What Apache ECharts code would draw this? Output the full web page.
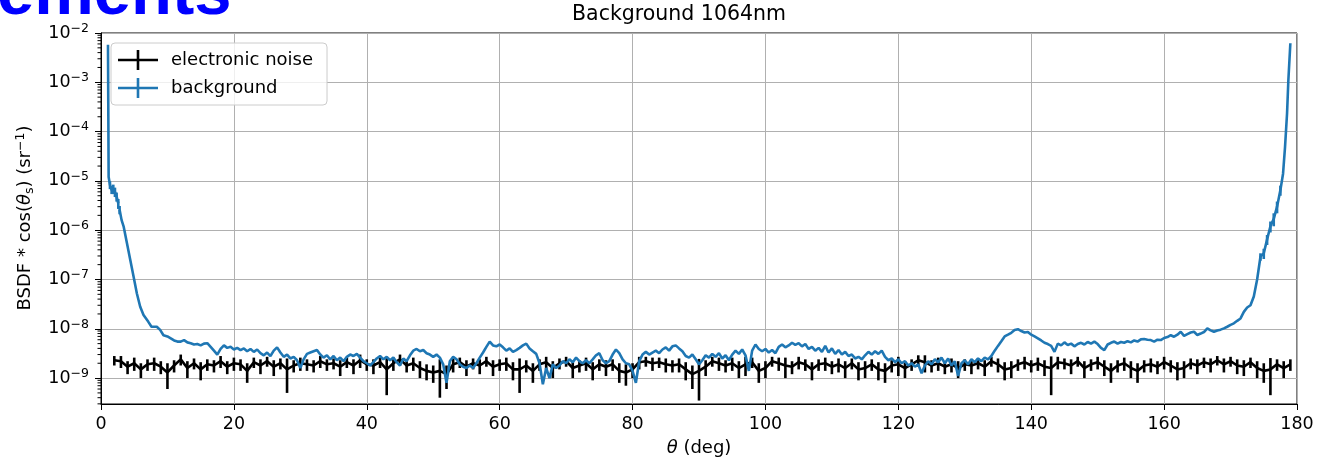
<!DOCTYPE html>
<html>
<head>
<meta charset="utf-8">
<script src="https://cdn.jsdelivr.net/npm/echarts@6/dist/echarts.min.js"></script>
<style>
  html, body { margin: 0; padding: 0; background: #ffffff; }
  #chart { width: 1334px; height: 466px; }
</style>
</head>
<body>
<div id="chart"></div>
<script>
// ---------------------------------------------------------------------------
// Scatter measurement at 1064 nm: electronic noise floor and background scan
// ---------------------------------------------------------------------------
const FONT = '"DejaVu Sans", Verdana, sans-serif';
const NANO = 1e-9;                     // noise and mid-range background are listed in units of 1e-9 sr^-1
const Y_MIN = 2.98e-10;
const Y_MAX = 1e-2;
const X_TICK_STEP = 20;

// Electronic noise: one reading per degree from 2 deg to 179 deg (units 1e-9)
const NOISE_FIRST_ANGLE = 2;
const noiseValues = [
  2.3, 2.2, 1.7, 2.0, 1.5, 1.9, 2.0, 1.7, 1.3, 1.8,
  2.4, 1.6, 2.0, 1.5, 1.9, 1.8, 2.2, 1.7, 2.0, 1.9,
  1.4, 2.1, 1.8, 2.2, 1.7, 2.0, 1.5, 1.8, 2.0, 1.9,
  1.8, 2.2, 1.9, 2.0, 1.7, 2.1, 1.8, 2.3, 1.9, 1.8,
  2.1, 1.5, 2.0, 2.4, 1.8, 2.0, 1.6, 1.4, 1.3, 1.4,
  1.2, 1.9, 2.1, 1.7, 2.0, 1.8, 2.2, 1.7, 1.9, 2.0,
  1.5, 1.5, 1.8, 1.4, 1.9, 2.1, 1.6, 2.0, 2.2, 1.6,
  1.8, 2.0, 1.5, 1.9, 1.7, 1.9, 1.4, 1.3, 1.5, 2.1,
  2.2, 2.0, 2.1, 1.9, 1.8, 1.9, 1.5, 1.2, 1.4, 1.7,
  2.2, 2.0, 1.8, 2.0, 1.6, 1.9, 2.1, 1.4, 1.6, 2.2,
  2.0, 1.8, 1.7, 2.1, 1.9, 1.5, 1.9, 2.0, 1.7, 1.9,
  1.6, 2.0, 1.5, 1.6, 1.9, 1.5, 1.4, 1.8, 1.9, 1.6,
  1.9, 2.3, 2.1, 1.8, 2.0, 1.7, 1.9, 1.6, 1.9, 1.8,
  2.0, 1.7, 2.2, 1.9, 1.5, 1.6, 1.9, 2.1, 1.8, 2.0,
  1.7, 1.6, 2.1, 2.0, 1.8, 2.2, 1.6, 1.9, 2.1, 1.7,
  1.4, 1.8, 2.0, 1.6, 1.4, 1.8, 1.9, 1.7, 2.1, 1.8,
  1.5, 1.6, 2.0, 1.8, 2.1, 1.9, 2.3, 1.9, 2.2, 1.8,
  1.7, 2.1, 1.6, 1.4, 1.5, 1.9, 1.6, 1.9
];
// One-sigma uncertainty of each noise reading (units 1e-9)
const noiseErrors = [
  0.5, 0.6, 0.5, 0.6, 0.5, 0.5, 0.6, 0.5, 0.7, 0.5,
  0.6, 0.6, 0.5, 0.6, 0.5, 0.5, 0.6, 0.5, 0.6, 0.5,
  0.6, 0.5, 0.6, 0.5, 0.6, 0.5, 1.0, 0.5, 0.6, 0.5,
  0.5, 0.6, 0.5, 0.5, 0.6, 0.5, 0.6, 0.7, 0.5, 0.6,
  0.5, 1.05, 0.6, 0.6, 0.5, 0.6, 0.6, 0.5, 0.5, 1.0,
  0.6, 0.6, 0.5, 0.6, 0.5, 0.6, 0.5, 0.6, 0.5, 0.6,
  0.6, 1.0, 0.5, 0.6, 0.5, 0.6, 0.6, 0.5, 0.5, 0.6,
  0.5, 0.6, 0.6, 0.5, 0.6, 0.5, 0.6, 0.6, 0.5, 0.6,
  0.5, 0.6, 0.5, 0.6, 0.5, 0.6, 0.6, 0.6, 1.05, 0.6,
  0.5, 0.6, 0.5, 0.6, 0.6, 0.8, 0.5, 0.6, 0.6, 0.5,
  0.6, 0.8, 0.5, 0.6, 0.5, 0.6, 0.5, 0.6, 0.5, 0.6,
  0.6, 0.5, 0.6, 0.6, 0.5, 0.6, 0.6, 0.5, 0.8, 0.6,
  0.5, 0.6, 0.8, 0.5, 0.6, 0.5, 0.6, 0.6, 0.5, 0.6,
  0.5, 0.6, 0.5, 0.6, 0.6, 0.6, 0.5, 0.6, 0.5, 0.6,
  0.6, 1.15, 0.6, 0.5, 0.6, 0.5, 0.6, 0.5, 0.6, 0.6,
  0.6, 0.5, 0.6, 0.6, 0.6, 0.5, 0.6, 0.5, 0.6, 0.5,
  0.6, 0.6, 0.5, 0.6, 0.5, 0.6, 0.5, 0.6, 0.5, 0.6,
  0.6, 0.5, 0.6, 0.6, 1.05, 0.5, 0.6, 0.5
];

// Background near the forward direction, [angle (deg), value]; null marks a missing reading
const backgroundLeft = [
  [1.05, 5.8e-3], [1.15, 1.2e-5], [1.35, 8.3e-6], [1.6, 6.6e-6], [1.85, 6.9e-6],
  [2.1, 6.0e-6], [2.35, 4.8e-6], [2.6, 3.5e-6], [2.7, null], [2.8, 2.6e-6],
  [3.1, 1.6e-6], [3.4, 1.2e-6], [3.9, 5.5e-7], [4.4, 2.5e-7], [4.9, 1.15e-7],
  [5.4, 5.2e-8], [5.9, 2.8e-8], [6.4, 1.9e-8], [7.1, 1.4e-8], [7.6, 1.1e-8],
  [8.4, 1.1e-8], [8.9, 9.5e-9], [9.4, 7.4e-9], [10.0, 7.0e-9], [10.5, 6.4e-9],
  [11.0, 5.8e-9], [11.5, 5.5e-9], [12.0, 5.5e-9], [12.5, 5.9e-9], [13.0, 5.3e-9],
  [13.5, 5.1e-9], [14.0, 4.8e-9], [14.5, 4.9e-9], [15.0, 4.6e-9], [15.5, 5.0e-9],
  [16.0, 5.1e-9], [16.5, 4.3e-9], [17.0, 3.6e-9], [17.5, 3.0e-9], [18.0, 3.9e-9],
  [18.5, 4.6e-9], [19.0, 4.1e-9], [19.5, 4.3e-9], [20.0, 3.8e-9], [20.5, 4.1e-9]
];

// Background every 0.5 deg from 21 deg to 171.5 deg (units 1e-9)
const BACKGROUND_MID_FIRST = 21;
const BACKGROUND_MID_STEP = 0.5;
const backgroundMid = [
  3.7, 4.0, 3.5, 3.9, 3.4, 3.8, 3.2, 2.9, 3.3, 2.8,   // 21.0
  3.6, 4.2, 3.3, 2.7, 3.0, 2.5, 2.7, 2.3, 1.6, 2.4,   // 26.0
  3.1, 3.3, 3.5, 3.7, 3.0, 2.6, 2.9, 2.4, 2.8, 2.3,   // 31.0
  2.6, 2.2, 2.7, 3.0, 2.8, 3.1, 2.6, 2.2, 2.0, 1.8,   // 36.0
  2.1, 2.5, 2.8, 2.4, 2.7, 2.3, 2.6, 2.1, 1.8, 2.5,   // 41.0
  2.2, 2.9, 3.6, 3.9, 3.5, 3.7, 3.2, 3.0, 2.7, 3.0,   // 46.0
  2.6, 1.9, 0.8, 2.2, 2.7, 2.4, 1.9, 1.7, 1.6, 1.8,   // 51.0
  1.6, 2.0, 2.6, 3.3, 4.3, 5.5, 4.6, 4.4, 4.8, 4.2,   // 56.0
  3.6, 4.0, 3.4, 3.7, 4.1, 4.6, 5.0, 4.0, 3.5, 3.1,   // 61.0
  2.0, 0.75, 1.6, 1.0, 1.9, 1.6, 1.8, 2.2, 2.0, 2.4,  // 66.0
  2.1, 2.6, 2.2, 2.0, 2.3, 2.0, 2.4, 2.9, 3.2, 2.3,   // 71.0
  2.0, 2.2, 3.0, 3.8, 3.2, 2.4, 2.0, 1.9, 1.4, 0.8,   // 76.0
  2.2, 3.0, 3.4, 3.0, 3.3, 3.6, 3.2, 3.8, 4.2, 3.6,   // 81.0
  4.4, 4.6, 4.0, 3.5, 2.8, 2.6, 3.0, 2.4, 1.9, 2.3,   // 86.0
  2.9, 2.6, 3.1, 2.7, 3.2, 2.5, 2.9, 2.3, 3.0, 3.6,   // 91.0
  3.1, 3.8, 2.9, 1.4, 3.6, 4.8, 3.9, 3.5, 3.9, 3.3,   // 96.0
  3.7, 3.2, 4.3, 4.8, 4.2, 4.6, 5.2, 4.7, 5.1, 4.4,   // 101.0
  4.9, 3.9, 4.3, 3.6, 4.1, 3.4, 4.5, 3.3, 4.0, 3.1,   // 106.0
  3.7, 3.0, 3.4, 2.8, 3.0, 2.5, 2.7, 2.4, 2.9, 3.4,   // 111.0
  3.0, 3.5, 3.1, 3.6, 2.7, 2.3, 2.5, 2.1, 2.4, 2.0,   // 116.0
  2.2, 1.8, 2.0, 1.7, 1.9, 1.25, 1.8, 2.2, 1.9, 2.4,  // 121.0
  2.1, 2.6, 2.0, 2.5, 1.8, 2.2, 1.1, 2.0, 2.3, 1.9,   // 126.0
  2.4, 2.1, 2.5, 2.2, 2.6, 2.4, 2.8, 3.6, 4.5, 5.6,   // 131.0
  7.0, 7.6, 8.3, 9.4, 9.8, 9.0, 8.4, 8.6, 7.6, 7.0,   // 136.0
  6.4, 5.8, 5.2, 4.9, 4.5, 3.4, 5.0, 4.6, 5.3, 4.7,   // 141.0
  5.0, 4.4, 4.9, 5.2, 4.8, 5.4, 5.0, 5.5, 4.9, 4.1,   // 146.0
  3.7, 4.8, 5.2, 5.5, 5.0, 5.4, 5.2, 5.6, 5.3, 5.8,   // 151.0
  5.5, 6.1, 6.2, 6.0, 5.9, 5.5, 6.0, 5.9, 6.5, 6.8,   // 156.0
  7.4, 6.9, 7.6, 8.7, 7.2, 7.8, 8.4, 8.7, 7.5, 8.0,   // 161.0
  8.6, 10.2, 9.3, 8.7, 9.2, 9.6, 10.2, 11.0, 12.0, 12.9, // 166.0
  14.5, 16.2                                           // 171.0
];

// Background near the back-reflection direction, [angle (deg), value]
const backgroundRight = [
  [172.0, 2.2e-8], [172.5, 2.7e-8], [173.0, 3.0e-8], [173.5, 4.5e-8], [174.0, 1.0e-7],
  [174.5, 2.9e-7], [175.0, 3.4e-7], [175.5, 6.5e-7], [176.0, 1.2e-6], [176.5, 1.7e-6],
  [177.0, 3.0e-6], [177.5, 6.5e-6], [177.9, 1.4e-5], [178.2, 4.9e-5], [178.5, 2.3e-4],
  [178.7, 1.1e-3], [179.0, 6.2e-3]
];

// Background uncertainties that are large enough to show, [angle (deg), value, sigma]
const backgroundErrors = [
  [1.35, 8.3e-6, 1.5e-6], [1.6, 6.6e-6, 1.2e-6], [1.85, 6.9e-6, 1.5e-6], [2.1, 6.0e-6, 1.3e-6],
  [2.35, 4.8e-6, 1.0e-6], [2.6, 3.5e-6, 0.8e-6], [2.8, 2.6e-6, 0.5e-6],
  [174.5, 2.9e-7, 0.5e-7], [175.0, 3.4e-7, 0.8e-7], [175.5, 6.5e-7, 1.5e-7], [176.0, 1.2e-6, 0.3e-6],
  [176.5, 1.7e-6, 0.5e-6], [177.0, 3.0e-6, 0.8e-6], [177.5, 6.5e-6, 1.5e-6]
];

// ---------------------------------------------------------------------------
// Assemble the series data
// ---------------------------------------------------------------------------
const noiseLine = noiseValues.map((v, i) => [NOISE_FIRST_ANGLE + i, v * NANO]);
const noiseBars = noiseValues.map((v, i) => [NOISE_FIRST_ANGLE + i, v * NANO, noiseErrors[i] * NANO]);

const backgroundLine = backgroundLeft
  .concat(backgroundMid.map((v, i) => [BACKGROUND_MID_FIRST + i * BACKGROUND_MID_STEP, v * NANO]))
  .concat(backgroundRight);

// log-axis minor ticks: 2..9 x 10^k inside the axis range
const minorTicks = [];
for (let k = -10; k <= -3; k++) {
  for (let m = 2; m <= 9; m++) {
    const v = m * Math.pow(10, k);
    if (v > Y_MIN && v < Y_MAX) minorTicks.push([0, v]);
  }
}

const BLUE = '#1f77b4';
const BLACK = '#000000';

function errorBarRenderer(color) {
  return function (params, api) {
    const x = api.value(0);
    const v = api.value(1);
    const e = api.value(2);
    const top = api.coord([x, Math.min(v + e, Y_MAX)]);
    const bottom = api.coord([x, Math.max(v - e, Y_MIN)]);
    return {
      type: 'line',
      shape: { x1: top[0], y1: top[1], x2: bottom[0], y2: bottom[1] },
      style: { stroke: color, lineWidth: 2.6 }
    };
  };
}

function minorTickRenderer(params, api) {
  const p = api.coord([api.value(0), api.value(1)]);
  return {
    type: 'line',
    shape: { x1: p[0] - 3.5, y1: p[1], x2: p[0], y2: p[1] },
    style: { stroke: '#000', lineWidth: 1 }
  };
}

const chart = echarts.init(document.getElementById('chart'), null, { renderer: 'canvas' });

const plusIcon = 'path://M0,8.7H40V11.3H0Z M18.7,0H21.3V20H18.7Z';

chart.setOption({
  animation: false,
  backgroundColor: '#ffffff',
  textStyle: { fontFamily: FONT },
  grid: {
    left: 101, right: 37, top: 33, bottom: 62,
    show: true, borderColor: '#000', borderWidth: 1, backgroundColor: 'transparent'
  },
  legend: {
    orient: 'vertical',
    left: 111, top: 43,
    itemWidth: 40, itemHeight: 20, itemGap: 8,
    padding: [7, 14, 7, 7],
    backgroundColor: 'rgba(255,255,255,0.8)',
    borderColor: '#cccccc', borderWidth: 1, borderRadius: 4,
    textStyle: { fontFamily: FONT, fontSize: 18, color: '#000', padding: [0, 0, 0, 8] },
    data: [
      { name: 'electronic noise', icon: plusIcon, itemStyle: { color: BLACK } },
      { name: 'background', icon: plusIcon, itemStyle: { color: BLUE } }
    ]
  },
  xAxis: {
    type: 'value',
    min: 0, max: 180, interval: X_TICK_STEP,
    name: '{it|θ} (deg)',
    nameLocation: 'middle',
    nameGap: 35,
    nameTextStyle: {
      fontFamily: FONT, fontSize: 18, color: '#000',
      rich: { it: { fontFamily: FONT, fontSize: 18, fontStyle: 'italic', color: '#000' } }
    },
    axisLine: { show: true, lineStyle: { color: '#000', width: 1 } },
    axisTick: { show: true, length: 6, lineStyle: { color: '#000', width: 1 } },
    axisLabel: { fontFamily: FONT, fontSize: 17.5, color: '#000', margin: 11 },
    splitLine: { show: true, lineStyle: { color: '#b0b0b0', width: 1 } }
  },
  yAxis: {
    type: 'log',
    logBase: 10,
    min: Y_MIN, max: Y_MAX,
    splitNumber: 5,
    axisLine: { show: true, lineStyle: { color: '#000', width: 1 } },
    axisTick: { show: true, length: 6, lineStyle: { color: '#000', width: 1 } },
    axisLabel: {
      fontFamily: FONT, fontSize: 17.5, color: '#000', margin: 12,
      lineHeight: 22,
      showMinLabel: false,
      formatter: function (v) {
        const p = Math.log10(v);
        const r = Math.round(p);
        if (Math.abs(p - r) > 1e-6) return '';
        return '10{sup|\u2212' + Math.abs(r) + '}';
      },
      rich: { sup: { fontFamily: FONT, fontSize: 12.5, color: '#000', verticalAlign: 'top' } }
    },
    splitLine: { show: true, lineStyle: { color: '#b0b0b0', width: 1 } }
  },
  series: [
    {
      name: 'electronic noise',
      type: 'line',
      data: noiseLine,
      showSymbol: false,
      symbol: 'none',
      lineStyle: { color: BLACK, width: 2.6 },
      itemStyle: { color: BLACK },
      z: 2
    },
    {
      name: 'electronic noise',
      type: 'custom',
      data: noiseBars,
      encode: { x: 0, y: 1 },
      renderItem: errorBarRenderer(BLACK),
      silent: true,
      z: 2
    },
    {
      name: 'background',
      type: 'line',
      data: backgroundLine,
      showSymbol: false,
      symbol: 'none',
      connectNulls: false,
      lineStyle: { color: BLUE, width: 2.6 },
      itemStyle: { color: BLUE },
      z: 3
    },
    {
      name: 'background',
      type: 'custom',
      data: backgroundErrors,
      encode: { x: 0, y: 1 },
      renderItem: errorBarRenderer(BLUE),
      silent: true,
      z: 3
    },
    {
      name: 'minor ticks',
      type: 'custom',
      data: minorTicks,
      encode: { x: 0, y: 1 },
      renderItem: minorTickRenderer,
      silent: true,
      z: 5
    }
  ],
  graphic: [
    {
      type: 'text',
      x: 679, y: 15,
      style: {
        text: 'Background 1064nm',
        fontFamily: FONT, fontSize: 20.5, fill: '#000',
        align: 'center', verticalAlign: 'middle'
      }
    },
    {
      type: 'text',
      x: 25, y: 218,
      rotation: Math.PI / 2,
      style: {
        text: 'BSDF * cos({it|θ}{sub|s}) (sr{sup|\u22121})',
        fontFamily: FONT, fontSize: 18, fill: '#000', lineHeight: 22,
        align: 'center', verticalAlign: 'middle',
        rich: {
          it: { fontFamily: FONT, fontSize: 18, fontStyle: 'italic', fill: '#000' },
          sub: { fontFamily: FONT, fontSize: 12.5, fill: '#000', verticalAlign: 'bottom' },
          sup: { fontFamily: FONT, fontSize: 12.5, fill: '#000', verticalAlign: 'top' }
        }
      }
    },
    {
      type: 'text',
      x: -3, y: -4,
      style: {
        text: 'ements',
        fontFamily: '"Liberation Sans", Arial, sans-serif',
        fontWeight: 'bold', fontSize: 67, fill: '#0000ff',
        align: 'left', verticalAlign: 'middle'
      }
    }
  ]
});
</script>
</body>
</html>
